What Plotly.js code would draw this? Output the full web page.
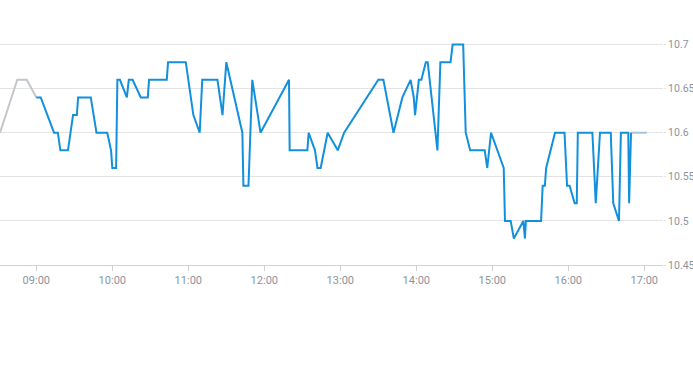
<!DOCTYPE html>
<html>
<head>
<meta charset="utf-8">
<script src="https://cdn.plot.ly/plotly-3.0.1.min.js"></script>
<style>html,body{margin:0;padding:0;background:#fff;}#chart{width:693px;height:365px;}</style>
</head>
<body>
<div id="chart"></div>
<script>
var day = '2024-01-05 ';
var preTimes = ['08:31:20','08:45:00','08:52:30','09:00:00'];
var preValues = [10.60, 10.66, 10.66, 10.64];

var mainTimes = ['09:00:00','09:03:30','09:14:00','09:17:00','09:19:00','09:25:00','09:27:00','09:29:00','09:32:00','09:33:00',
'09:43:00','09:47:30','09:56:00','09:59:00','10:00:00','10:03:00','10:04:00','10:06:00','10:11:30','10:13:00',
'10:16:00','10:22:30','10:28:00','10:29:00','10:43:00','10:44:00','10:58:00','11:04:00','11:09:00','11:11:00',
'11:23:00','11:27:00','11:30:00','11:42:40','11:43:30','11:47:30','11:50:30','11:57:00','12:19:30','12:20:00',
'12:34:00','12:35:00','12:40:00','12:42:00','12:44:30','12:50:00','12:58:00','13:03:00','13:30:00','13:34:00',
'13:42:00','13:49:00','13:55:30','13:58:00','13:59:00','14:02:00','14:04:00','14:07:30','14:09:00','14:16:40',
'14:19:00','14:27:00','14:28:40','14:37:00','14:39:00','14:42:30','14:54:00','14:56:00','14:59:00','15:09:00',
'15:10:00','15:14:30','15:17:00','15:24:30','15:25:45','15:26:30','15:38:30','15:39:45','15:41:30','15:42:30',
'15:49:30','15:57:00','15:59:00','16:01:00','16:05:00','16:06:40','16:07:30','16:19:00','16:21:40','16:25:00',
'16:33:30','16:35:30','16:40:00','16:41:30','16:47:20','16:48:00','16:49:30'];
var mainValues = [10.64,10.64,10.60,10.60,10.58,10.58,10.60,10.62,10.62,10.64,
10.64,10.60,10.60,10.58,10.56,10.56,10.66,10.66,10.64,10.66,
10.66,10.64,10.64,10.66,10.66,10.68,10.68,10.62,10.60,10.66,
10.66,10.62,10.68,10.60,10.54,10.54,10.66,10.60,10.66,10.58,
10.58,10.60,10.58,10.56,10.56,10.60,10.58,10.60,10.66,10.66,
10.60,10.64,10.66,10.64,10.62,10.66,10.66,10.68,10.68,10.58,
10.68,10.68,10.70,10.70,10.60,10.58,10.58,10.56,10.60,10.56,
10.50,10.50,10.48,10.50,10.48,10.50,10.50,10.54,10.54,10.56,
10.60,10.60,10.54,10.54,10.52,10.52,10.60,10.60,10.52,10.60,
10.60,10.52,10.50,10.60,10.60,10.52,10.60];

var postTimes = ['16:49:30','17:02:00'];
var postValues = [10.60, 10.60];

var yTicks = [10.45, 10.5, 10.55, 10.6, 10.65, 10.7];
var yTickLabels = ['10.45', '10.5', '10.55', '10.6', '10.65', '10.7'];

function full(arr){ return arr.map(function(t){ return day + t; }); }

var traces = [
  {x: full(preTimes), y: preValues, type: 'scatter', mode: 'lines',
   line: {color: '#c3c7cb', width: 2}, hoverinfo: 'skip'},
  {x: full(postTimes), y: postValues, type: 'scatter', mode: 'lines',
   line: {color: '#a6c6de', width: 2}, hoverinfo: 'skip'},
  {x: full(mainTimes), y: mainValues, type: 'scatter', mode: 'lines',
   line: {color: '#1390dc', width: 2}, hoverinfo: 'skip'}
];

var font = {family: 'Roboto, sans-serif', size: 11, color: '#8b949e'};
var yfont = {family: 'Roboto, sans-serif', size: 10.5, color: '#8b949e'};
var layout = {
  width: 693, height: 365,
  margin: {l: 0, r: 30, t: 0, b: 100, pad: 0},
  paper_bgcolor: '#fff', plot_bgcolor: '#fff',
  showlegend: false,
  font: font,
  xaxis: {
    type: 'date',
    range: [day + '08:31:20', day + '17:14:45'],
    tickformat: '%H:%M',
    dtick: 3600000,
    tick0: day + '09:00:00',
    ticks: 'outside', ticklen: 5, tickcolor: '#ccd2da', tickwidth: 1,
    showgrid: false, zeroline: false,
    showline: true, linecolor: '#ccd2da', linewidth: 1,
    tickfont: font
  },
  yaxis: {
    side: 'right',
    range: [10.45, 10.7505],
    tickvals: yTicks, ticktext: yTickLabels,
    ticks: 'outside', ticklen: 2, tickcolor: '#e3e3e3',
    showgrid: true, gridcolor: '#e3e3e3', gridwidth: 1,
    zeroline: false, showline: false,
    tickfont: yfont
  }
};
Plotly.newPlot('chart', traces, layout, {displayModeBar: false, staticPlot: true});
</script>
</body>
</html>
